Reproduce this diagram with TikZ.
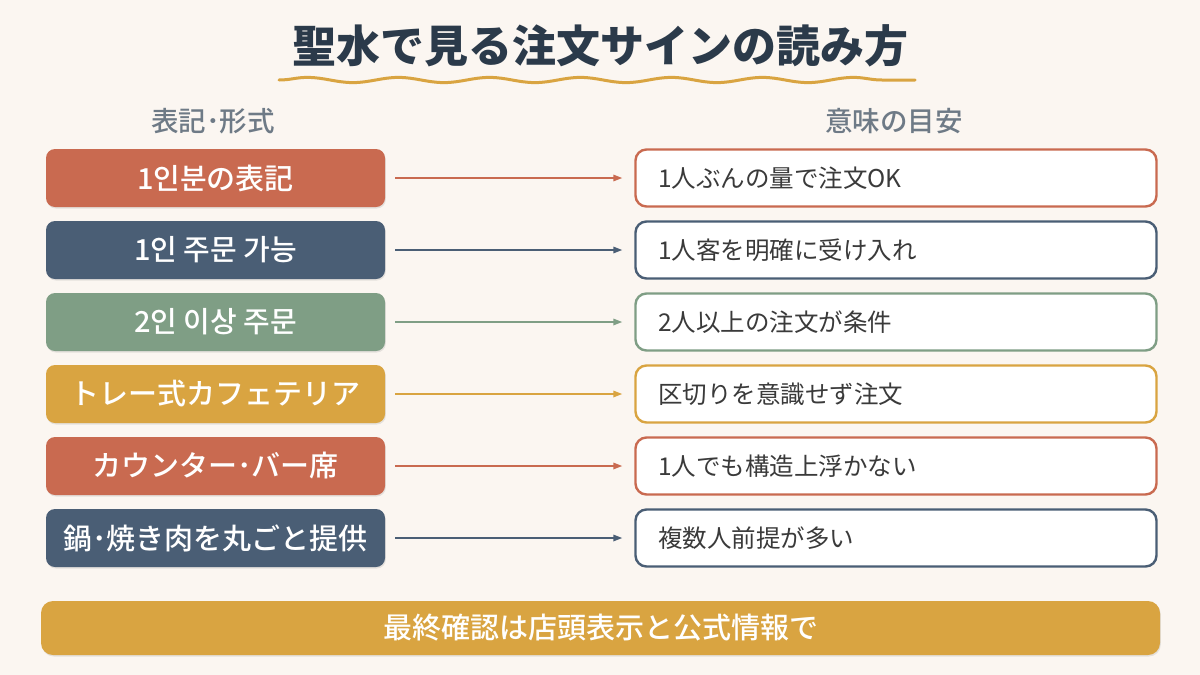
\documentclass[tikz,border=0pt]{standalone}
\usepackage{fontspec}
\setmainfont{Noto Sans CJK JP}
\newfontfamily\medfont{Noto Sans CJK JP Medium}
\usetikzlibrary{decorations.pathmorphing,shadows,arrows.meta}
\definecolor{bg}{HTML}{FBF6F1}
\definecolor{cred}{HTML}{C96A50}
\definecolor{cblue}{HTML}{4A5E75}
\definecolor{cgreen}{HTML}{7F9E85}
\definecolor{cgold}{HTML}{D9A441}
\definecolor{ctitle}{HTML}{2B3A4A}
\definecolor{chead}{HTML}{6E7A86}
\definecolor{ctext}{HTML}{3A3A3A}
\tikzset{
  leftbox/.style={rounded corners=9pt, minimum width=339pt, minimum height=58pt, inner sep=0pt,
    text=white, font=\fontsize{29}{32}\medfont,
    drop shadow={shadow xshift=0.8pt, shadow yshift=-1.5pt, opacity=0.18}},
  rightbox/.style={rounded corners=11pt, minimum width=521pt, minimum height=57pt, inner sep=0pt,
    fill=white, line width=2.4pt},
  righttxt/.style={anchor=west, font=\fontsize{24.5}{27}\selectfont, text=ctext, inner sep=0pt},
  conn/.style={-{Triangle[length=9pt,width=6.5pt]}, line width=1.6pt},
  headtxt/.style={font=\fontsize{27.5}{30}\medfont, text=chead},
}
\begin{document}
\begin{tikzpicture}[x=1pt,y=-1pt]
\fill[bg] (0,0) rectangle (1200,675);
\useasboundingbox (0,0) rectangle (1200,675);
\node[font=\fontsize{44}{48}\selectfont\bfseries, text=ctitle] (title) at (600,46) {聖水で見る注文サインの読み方};
\draw[cgold, line width=3pt, line cap=round, decorate, decoration={snake, segment length=91pt, amplitude=2.6pt}] (279,80) -- (915,80);
\node[headtxt] (hl) at (213,121) {表記･形式};
\node[headtxt] (hr) at (894,121) {意味の目安};
\foreach \i/\c/\lt/\rt in {
  0/cred/{1인분の表記}/{1人ぶんの量で注文OK},
  1/cblue/{1인 주문 가능}/{1人客を明確に受け入れ},
  2/cgreen/{2인 이상 주문}/{2人以上の注文が条件},
  3/cgold/{トレー式カフェテリア}/{区切りを意識せず注文},
  4/cred/{カウンター･バー席}/{1人でも構造上浮かない},
  5/cblue/{鍋･焼き肉を丸ごと提供}/{複数人前提が多い}}{
  \pgfmathsetmacro{\yy}{178+72*\i}
  \node[leftbox, fill=\c] (L\i) at (215.5,\yy) {\lt};
  \node[rightbox, draw=\c] (R\i) at (896,\yy) {};
  \node[righttxt] (T\i) at (658,\yy) {\rt};
  \draw[conn, \c] ([xshift=10pt]L\i.east) -- ([xshift=-12pt]R\i.west);
}
\node[rounded corners=12pt, fill=cgold, minimum width=1119pt, minimum height=54pt, inner sep=0pt,
  text=white, font=\fontsize{29}{32}\medfont,
  drop shadow={shadow xshift=0.8pt, shadow yshift=-1.5pt, opacity=0.18}] (bottom) at (600.5,628) {最終確認は店頭表示と公式情報で};
\end{tikzpicture}
\end{document}
